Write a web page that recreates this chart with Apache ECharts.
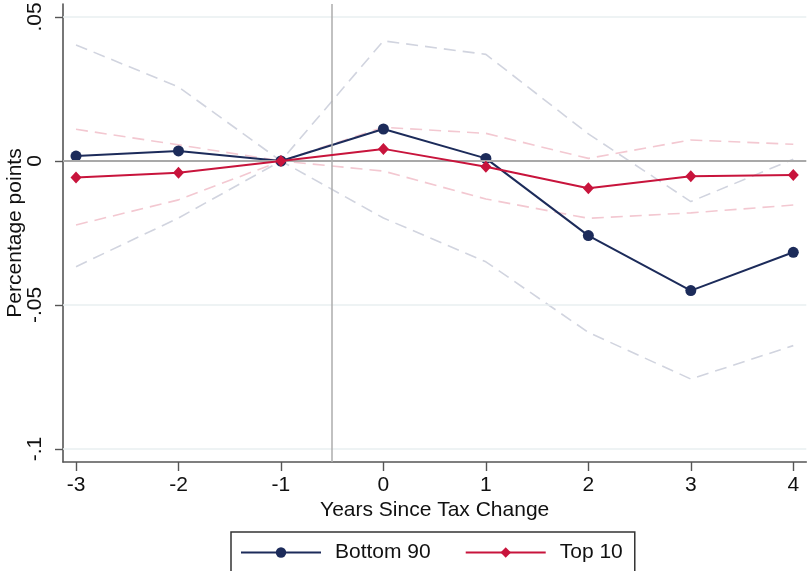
<!DOCTYPE html>
<html>
<head>
<meta charset="utf-8">
<script src="https://cdn.jsdelivr.net/npm/echarts@6/dist/echarts.min.js"></script>
<style>
  html, body { margin: 0; padding: 0; background: #fff; }
  #chart { width: 811px; height: 571px; }
</style>
</head>
<body>
<div id="chart"></div>
<script>
// Event-study estimates by year relative to the tax change
const years = [-3, -2, -1, 0, 1, 2, 3, 4];
const xTicks = [-3, -2, -1, 0, 1, 2, 3, 4];
const yTicks = [0.05, 0, -0.05, -0.1];

const bottom90 = [0.0017, 0.0035, 0, 0.0111, 0.0009, -0.0259, -0.0450, -0.0317];
const bottom90Upper = [0.0403, 0.0257, 0, 0.0417, 0.0370, 0.0094, -0.0141, 0.0006];
const bottom90Lower = [-0.0367, -0.0198, 0, -0.0198, -0.0350, -0.0595, -0.0757, -0.0641];

const top10 = [-0.0057, -0.0041, 0, 0.0042, -0.0020, -0.0095, -0.0053, -0.0049];
const top10Upper = [0.0110, 0.0056, 0, 0.0117, 0.0096, 0.0009, 0.0073, 0.0058];
const top10Lower = [-0.0222, -0.0135, 0, -0.0035, -0.0132, -0.0199, -0.0180, -0.0153];

const seriesNames = ['Bottom 90', 'Top 10'];
const eventLine = -0.5;

const NAVY = '#1c2b5a';
const RED = '#c8143c';
const CI_GRAY = '#d1d4df';
const CI_PINK = '#f3c8d1';
const FONT = 'Liberation Sans, Arial, Helvetica, sans-serif';

const pairs = (vals) => years.map((x, i) => [x, vals[i]]);

function fmtY(v) {
  if (Math.abs(v) < 1e-9) return '0';
  let s = String(Math.round(v * 1000) / 1000);
  return s.replace(/^(-?)0\./, '$1.');
}

function ciSeries(vals, color) {
  return {
    type: 'line', data: pairs(vals), symbol: 'none', silent: true, z: 2,
    lineStyle: { color: color, width: 1.6, type: [12, 7] }
  };
}

const chart = echarts.init(document.getElementById('chart'), null, { renderer: 'canvas' });

chart.setOption({
  animation: false,
  backgroundColor: '#ffffff',
  textStyle: { fontFamily: FONT },
  grid: { left: 63, top: 4, right: 4.7, bottom: 109, containLabel: false, outerBoundsMode: 'none' },
  xAxis: {
    type: 'value', min: -3.127, max: 4.127,
    name: 'Years Since Tax Change', nameLocation: 'middle', nameGap: 38, nameMoveOverlap: false,
    nameTextStyle: { fontSize: 21, color: '#111', fontFamily: FONT },
    axisLine: { show: true, onZero: false, lineStyle: { color: '#555', width: 1.6 } },
    axisTick: { show: true, length: 9, customValues: xTicks, lineStyle: { color: '#555', width: 1.4 } },
    axisLabel: { customValues: xTicks, fontSize: 21, color: '#111', margin: 13, fontFamily: FONT,
      formatter: (v) => String(v) },
    splitLine: { show: false }
  },
  yAxis: {
    type: 'value', min: -0.1045, max: 0.0545,
    name: 'Percentage points', nameLocation: 'middle', nameGap: 37, nameMoveOverlap: false,
    nameTextStyle: { fontSize: 21, color: '#111', fontFamily: FONT },
    axisLine: { show: true, onZero: false, lineStyle: { color: '#555', width: 1.6 } },
    axisTick: { show: true, length: 8, customValues: yTicks, lineStyle: { color: '#555', width: 1.4 } },
    axisLabel: { customValues: yTicks, rotate: 90, fontSize: 21, color: '#111', margin: 17, fontFamily: FONT,
      formatter: fmtY },
    splitLine: { show: false }
  },
  legend: {
    data: seriesNames,
    left: 231, top: 532,
    orient: 'horizontal',
    itemWidth: 80, itemHeight: 13, itemGap: 34,
    padding: [10, 12, 14, 9],
    borderColor: '#333', borderWidth: 1.5,
    textStyle: { fontSize: 21, color: '#111', fontFamily: FONT, padding: [0, 0, 0, 9] }
  },
  series: [
    {
      // reference lines: grid lines, zero line and event marker
      type: 'line', data: [], silent: true, z: 1,
      markLine: {
        silent: true, symbol: 'none', label: { show: false }, animation: false,
        data: [
          { yAxis: 0.05, lineStyle: { color: '#e8eff1', width: 1.6, type: 'solid' } },
          { yAxis: -0.05, lineStyle: { color: '#e8eff1', width: 1.6, type: 'solid' } },
          { yAxis: -0.1, lineStyle: { color: '#e8eff1', width: 1.6, type: 'solid' } },
          { yAxis: 0, lineStyle: { color: '#a9a9a9', width: 1.8, type: 'solid' } },
          { xAxis: eventLine, lineStyle: { color: '#adadad', width: 1.5, type: 'solid' } }
        ]
      }
    },
    ciSeries(bottom90Upper, CI_GRAY),
    ciSeries(bottom90Lower, CI_GRAY),
    ciSeries(top10Upper, CI_PINK),
    ciSeries(top10Lower, CI_PINK),
    {
      name: seriesNames[0], type: 'line', data: pairs(bottom90), z: 4,
      symbol: 'circle', symbolSize: 11,
      lineStyle: { color: NAVY, width: 2 },
      itemStyle: { color: NAVY }
    },
    {
      name: seriesNames[1], type: 'line', data: pairs(top10), z: 5,
      symbol: 'diamond', symbolSize: [11, 12],
      lineStyle: { color: RED, width: 2 },
      itemStyle: { color: RED }
    }
  ]
});
</script>
</body>
</html>
